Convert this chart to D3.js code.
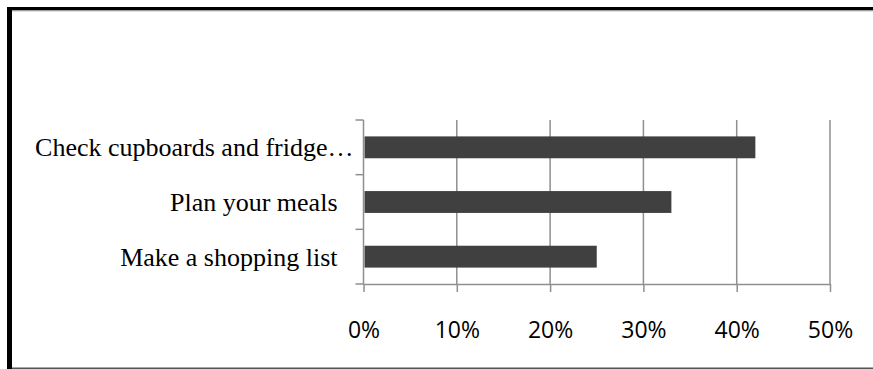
<!DOCTYPE html>
<html>
<head>
<meta charset="utf-8">
<script src="https://cdn.jsdelivr.net/npm/d3@7/dist/d3.min.js"></script>
<style>
  html, body { margin: 0; padding: 0; background: #ffffff; }
  svg { display: block; }
</style>
</head>
<body>
<svg id="chart" width="873" height="369"></svg>
<script>
// Survey answers, shown top to bottom
const categories = ["Check cupboards and fridge…", "Plan your meals", "Make a shopping list"];
const shares = [0.42, 0.33, 0.25];
const xTicks = [0, 0.1, 0.2, 0.3, 0.4, 0.5];
const xTickLabels = ["0%", "10%", "20%", "30%", "40%", "50%"];

const svg = d3.select("#chart");
const W = 873, H = 369;

// page frame: heavy black top/left edges, thin grey rules
svg.append("rect").attr("x", 0).attr("y", 0).attr("width", W).attr("height", H).attr("fill", "#ffffff");
svg.append("rect").attr("x", 7).attr("y", 7).attr("width", W - 7).attr("height", 3.5).attr("fill", "#000");
svg.append("rect").attr("x", 7).attr("y", 7).attr("width", 5).attr("height", H - 7).attr("fill", "#000");
svg.append("line").attr("x1", 12).attr("x2", W).attr("y1", 11).attr("y2", 11)
  .attr("stroke", "#bdbdbd").attr("stroke-width", 1.2);
svg.append("line").attr("x1", 12).attr("x2", W).attr("y1", 368.3).attr("y2", 368.3)
  .attr("stroke", "#555", "").attr("stroke-width", 1.5);

const plot = { left: 363.5, right: 830, top: 120, bottom: 284 };
const axisColor = "#8f8f8f";

const x = d3.scaleLinear().domain([0, 0.5]).range([plot.left, plot.right]);
const y = d3.scaleBand().domain(categories).range([plot.top, plot.bottom])
  .paddingInner(0.6).paddingOuter(0.3);

// vertical gridlines
svg.append("g").selectAll("line").data(xTicks.filter(d => d > 0)).join("line")
  .attr("x1", d => x(d)).attr("x2", d => x(d))
  .attr("y1", plot.top).attr("y2", plot.bottom)
  .attr("stroke", axisColor).attr("stroke-width", 1.5);

// bars
svg.append("g").selectAll("rect").data(categories).join("rect")
  .attr("x", x(0) + 1)
  .attr("y", d => y(d))
  .attr("width", (d, i) => x(shares[i]) - x(0) - 1)
  .attr("height", y.bandwidth())
  .attr("fill", "#404040");

// x axis
const xAxis = svg.append("g").attr("transform", `translate(0,${plot.bottom})`)
  .call(d3.axisBottom(x).tickValues(xTicks)
    .tickFormat((d, i) => xTickLabels[i]).tickSizeInner(8).tickSizeOuter(0).tickPadding(30));
xAxis.selectAll("path, line").attr("stroke", axisColor).attr("stroke-width", 1.5);
xAxis.selectAll("text")
  .attr("fill", "#000").attr("font-family", "'Open Sans', sans-serif").attr("font-size", 23)
  .attr("dy", "0.71em");
xAxis.selectAll("text").attr("y", 337.5 - plot.bottom).attr("dy", 0);

// y axis: spine plus ticks on the category boundaries
const step = y.step();
const bounds = d3.range(categories.length + 1).map(i => plot.top + i * step);
const yAxis = svg.append("g");
yAxis.append("line").attr("x1", plot.left).attr("x2", plot.left)
  .attr("y1", plot.top).attr("y2", plot.bottom)
  .attr("stroke", axisColor).attr("stroke-width", 1.5);
yAxis.selectAll("line.tick").data(bounds).join("line").attr("class", "tick")
  .attr("x1", plot.left - 8).attr("x2", plot.left)
  .attr("y1", d => d).attr("y2", d => d)
  .attr("stroke", axisColor).attr("stroke-width", 1.5);

// category labels
yAxis.selectAll("text").data(categories).join("text")
  .attr("x", d => d.endsWith("…") ? plot.left - 10 : plot.left - 26)
  .attr("y", d => y(d) + y.bandwidth() / 2)
  .attr("dy", "0.35em")
  .attr("text-anchor", "end")
  .attr("font-family", "'Liberation Serif', 'Times New Roman', serif")
  .attr("font-size", 26)
  .attr("fill", "#000")
  .text(d => d);
</script>
</body>
</html>
